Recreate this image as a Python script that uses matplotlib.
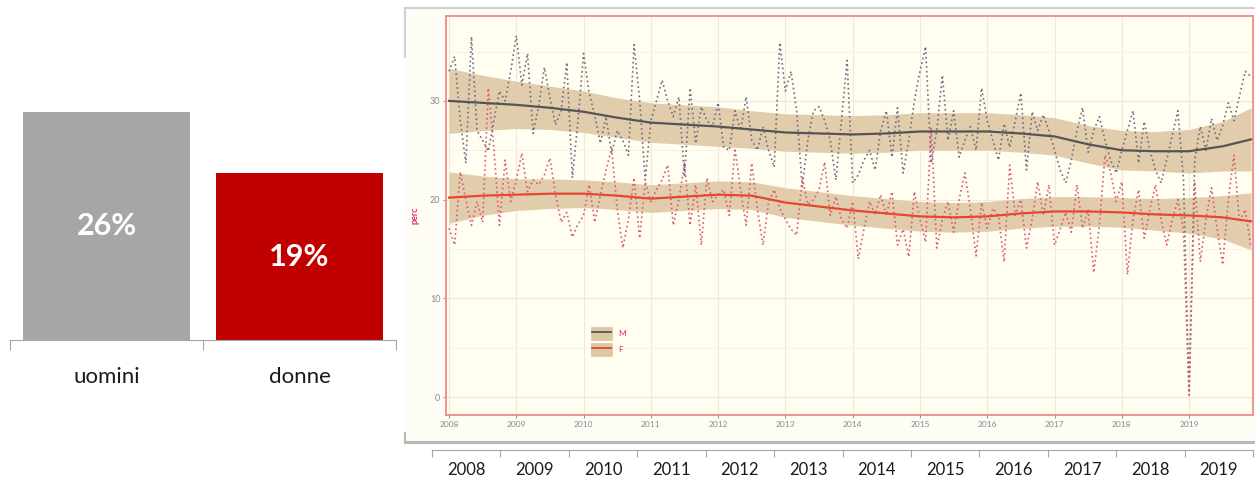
import numpy as np
import matplotlib
matplotlib.use("Agg")
import matplotlib.pyplot as plt
import matplotlib.transforms as mtransforms
from matplotlib.lines import Line2D
from matplotlib.patches import Patch

plt.rcParams['font.family'] = ['Lato', 'DejaVu Sans']

# left panel: share by sex
categories = ['uomini', 'donne']
shares = [26, 19]
bar_colors = ['#a6a6a6', '#c00000']

# bottom category axis
years = ['2008', '2009', '2010', '2011', '2012', '2013',
         '2014', '2015', '2016', '2017', '2018', '2019']

# monthly series (Jan 2008 - Dec 2019)
M = [33.0, 34.5, 28.0, 23.7, 36.5, 27.0, 26.0, 24.9, 28.0, 31.0, 30.0, 33.0,
     36.6, 31.6, 34.8, 26.7, 29.5, 33.4, 30.3, 27.6, 29.0, 33.9, 22.2, 28.0,
     34.8, 30.8, 28.5, 25.7, 28.4, 24.7, 27.0, 26.0, 24.5, 35.7, 30.1, 22.0,
     28.0, 30.0, 32.1, 30.0, 28.4, 30.4, 22.3, 31.3, 25.7, 29.4, 28.0, 27.4,
     29.8, 25.3, 25.0, 29.0, 27.0, 30.4, 26.0, 25.0, 27.4, 25.0, 23.3, 35.9,
     31.0, 33.0, 29.0, 21.3, 26.0, 29.0, 29.4, 28.0, 26.0, 22.0, 28.0, 34.1,
     21.7, 22.5, 24.0, 25.0, 23.0, 27.0, 29.0, 24.3, 29.3, 22.7, 26.0, 30.0,
     33.0, 35.5, 23.7, 27.0, 32.6, 26.0, 29.0, 24.3, 26.0, 27.4, 25.0, 31.3,
     28.0, 26.0, 24.0, 27.7, 25.3, 28.0, 30.8, 23.0, 28.9, 27.0, 28.6, 27.0,
     25.0, 23.0, 21.7, 24.0, 27.0, 29.3, 24.8, 27.0, 28.4, 26.0, 24.0, 22.7,
     25.0, 27.0, 29.0, 23.7, 27.9, 25.0, 23.0, 21.7, 24.0, 26.5, 29.0, 22.0,
     0.2, 24.0, 27.4, 25.0, 28.2, 26.0, 27.5, 29.8, 28.0, 30.5, 33.0, 32.5]
F = [17.1, 15.4, 22.8, 20.0, 17.4, 19.8, 17.7, 31.3, 25.2, 17.4, 24.0, 19.8,
     22.0, 24.7, 20.8, 22.0, 21.5, 22.5, 24.2, 20.5, 17.7, 18.7, 16.2, 17.5,
     18.4, 21.5, 17.7, 20.5, 23.0, 25.2, 19.0, 15.1, 18.0, 22.2, 16.1, 21.8,
     19.8, 21.0, 22.0, 23.5, 17.4, 20.0, 23.7, 17.4, 21.5, 15.4, 22.2, 19.8,
     20.5, 21.0, 18.4, 25.2, 21.0, 17.4, 23.7, 19.0, 15.4, 19.8, 21.0, 19.1,
     18.0, 17.0, 16.4, 22.2, 19.5, 20.0, 21.0, 23.8, 18.4, 20.3, 18.0, 17.1,
     19.8, 14.0, 17.0, 19.8, 18.5, 20.5, 18.4, 20.8, 15.4, 17.0, 14.2, 20.8,
     18.0, 15.7, 27.3, 15.1, 18.0, 19.8, 16.7, 20.0, 22.7, 19.0, 14.3, 19.7,
     17.1, 19.1, 18.4, 13.7, 23.5, 18.4, 20.0, 15.1, 18.0, 21.8, 18.4, 21.5,
     15.4, 17.0, 18.7, 16.7, 21.5, 17.1, 19.0, 12.6, 17.4, 24.5, 22.8, 19.8,
     21.8, 12.4, 18.0, 21.0, 16.1, 19.0, 21.5, 18.0, 15.4, 18.0, 20.0, 17.0,
     0.2, 21.8, 13.7, 18.0, 21.2, 17.0, 13.4, 20.0, 24.5, 17.7, 19.0, 15.3]

# smoothed trend and its band (half width), read every half year
fit_t = [2008.0, 2008.5, 2009.0, 2009.5, 2010.0, 2010.5, 2011.0, 2011.5,
         2012.0, 2012.5, 2013.0, 2013.5, 2014.0, 2014.5, 2015.0, 2015.5,
         2016.0, 2016.5, 2017.0, 2017.5, 2018.0, 2018.5, 2019.0, 2019.5, 2019.92]
M_fit = [30.0, 29.8, 29.6, 29.3, 28.9, 28.3, 27.8, 27.6, 27.4, 27.1, 26.8, 26.7,
         26.6, 26.7, 26.9, 26.9, 26.9, 26.7, 26.4, 25.6, 25.0, 24.9, 24.9, 25.4, 26.1]
M_se = [3.3, 2.8, 2.4, 2.2, 2.1, 2.0, 2.0, 2.0, 2.0, 1.9, 1.9, 1.9,
        1.9, 1.9, 1.9, 1.9, 1.9, 1.9, 1.9, 1.9, 2.0, 2.0, 2.2, 2.5, 3.2]
F_fit = [20.2, 20.4, 20.5, 20.6, 20.6, 20.4, 20.1, 20.3, 20.5, 20.4, 19.7, 19.3,
         18.9, 18.6, 18.3, 18.2, 18.3, 18.6, 18.8, 18.8, 18.7, 18.5, 18.4, 18.2, 17.8]
F_se = [2.6, 2.0, 1.6, 1.5, 1.4, 1.4, 1.4, 1.4, 1.4, 1.4, 1.5, 1.5,
        1.5, 1.5, 1.5, 1.5, 1.5, 1.5, 1.5, 1.5, 1.5, 1.6, 1.8, 2.2, 2.9]

W, H = 1255, 479


def box(x0, y0, x1, y1):
    # pixel box (from top-left) -> figure fraction rect
    return [x0 / W, 1 - y1 / H, (x1 - x0) / W, (y1 - y0) / H]


fig = plt.figure(figsize=(W / 100, H / 100), dpi=100)
fig.patch.set_facecolor('white')

# ---- left bar chart
ax = fig.add_axes(box(10, 112, 396, 340))
pos = np.arange(len(categories)) + 0.5
ax.bar(pos, shares, width=0.87, color=bar_colors)
ax.set_xlim(0, len(categories))
ax.set_ylim(0, max(shares))
for s in ['top', 'left', 'right']:
    ax.spines[s].set_visible(False)
ax.spines['bottom'].set_color('#a6a6a6')
ax.set_yticks([])
ax.set_xticks(range(len(categories) + 1))
ax.set_xticklabels([])
ax.tick_params(axis='x', length=7, color='#a6a6a6')
ax.patch.set_alpha(0)
for p, v in zip(pos, shares):
    ax.text(p, v / 2, f'{v}%', color='white', fontsize=22, fontweight='bold',
            ha='center', va='center')
tr = mtransforms.blended_transform_factory(ax.transData, fig.transFigure)
for p, c in zip(pos, categories):
    ax.text(p, 1 - 377 / H, c, transform=tr, fontsize=16, ha='center',
            va='center', color='#1a1a1a')

# ---- screenshot frame behind the time series
bg = fig.add_axes(box(405, 8, 1255, 442))
bg.set_facecolor('#fdfdf6')
bg.set_xticks([])
bg.set_yticks([])
for s in bg.spines.values():
    s.set_visible(False)
bg.set_xlim(0, 1)
bg.set_ylim(0, 1)
bg.plot([0, 1], [1, 1], color='#d0d0d0', lw=1.5, clip_on=False)
bg.plot([0, 1], [0, 0], color='#b8b8b8', lw=2.2, clip_on=False)
bg.plot([0, 0], [1, 0.887], color='#d0d0d0', lw=1.5, clip_on=False)
bg.plot([0, 0], [0, 0.02], color='#b8b8b8', lw=1.5, clip_on=False)

# ---- time series panel
ax2 = fig.add_axes(box(446, 16, 1253, 415))
ax2.set_facecolor('#fffef0')
t = 2008 + np.arange(len(M)) / 12
ft = np.array(fit_t)
ax2.fill_between(ft, np.array(M_fit) - M_se, np.array(M_fit) + M_se,
                 color='#dec8a4', alpha=0.9, lw=0, zorder=1)
ax2.fill_between(ft, np.array(F_fit) - F_se, np.array(F_fit) + F_se,
                 color='#dec8a4', alpha=0.9, lw=0, zorder=1)
ax2.plot(t, M, ls=(0, (1, 1.8)), lw=1.2, color='#6c6c86', zorder=2)
ax2.plot(t, F, ls=(0, (1, 1.8)), lw=1.2, color='#d65a78', zorder=2)
ax2.plot(fit_t, M_fit, color='#555555', lw=1.6, zorder=3)
ax2.plot(fit_t, F_fit, color='#e5482f', lw=1.6, zorder=3)

ax2.set_xlim(2007.955, 2019.95)
ax2.set_ylim(-1.82, 38.6)
ax2.set_xticks(range(2008, 2020))
ax2.set_xticklabels(years, fontsize=6, color='#8a8a8a')
ax2.set_yticks([0, 10, 20, 30])
ax2.set_yticklabels(['0', '10', '20', '30'], fontsize=6.5, color='#8a8a8a')
ax2.set_yticks([5, 15, 25, 35], minor=True)
ax2.tick_params(which='major', length=2, color='#999999', pad=2)
ax2.tick_params(which='minor', length=0)
ax2.grid(which='major', color='#efe9d6', lw=0.8, zorder=0)
ax2.grid(which='minor', axis='y', color='#f5f1e2', lw=0.6, zorder=0)
ax2.set_axisbelow(True)
for s in ax2.spines.values():
    s.set_color('#f08a8a')
    s.set_linewidth(1.3)
ax2.set_ylabel('perc', color='#e0306a', fontsize=6.5, fontweight='bold')
ax2.yaxis.set_label_coords(-26 / 807, 0.5)

key = Patch(facecolor='#dec8a4', edgecolor='#dec8a4', lw=2)
ax2.legend(handles=[(key, Line2D([], [], color='#555555', lw=1.3)),
                    (key, Line2D([], [], color='#e5482f', lw=1.3))],
           labels=['M', 'F'], loc='lower left',
           bbox_to_anchor=(146 / 807, 60 / 399),
           frameon=False, fontsize=6, labelcolor='#e0306a',
           handlelength=2.3, handleheight=1.7, labelspacing=0.55,
           handletextpad=0.8, borderpad=0, borderaxespad=0)

# ---- bottom category axis (years)
ax3 = fig.add_axes(box(432, 449, 1253, 450))
ax3.set_xlim(0, len(years))
ax3.set_ylim(0, 1)
for s in ['top', 'left', 'right']:
    ax3.spines[s].set_visible(False)
ax3.spines['bottom'].set_color('#a6a6a6')
ax3.patch.set_alpha(0)
ax3.set_yticks([])
ax3.set_xticks(range(len(years) + 1))
ax3.set_xticklabels([])
ax3.tick_params(axis='x', length=5, color='#a6a6a6')
tr3 = mtransforms.blended_transform_factory(ax3.transData, fig.transFigure)
for i, y in enumerate(years):
    ax3.text(i + 0.5, 1 - 470 / H, y, transform=tr3, fontsize=12,
             ha='center', va='center', color='#1a1a1a')

plt.savefig('out.png', dpi=100)
